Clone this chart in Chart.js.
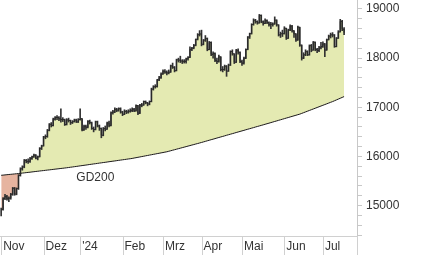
<!DOCTYPE html>
<html><head><meta charset="utf-8">
<script src="https://cdn.jsdelivr.net/npm/chart.js@4/dist/chart.umd.min.js"></script>
<style>html,body{margin:0;padding:0;background:#fff;} #wrap{width:426px;height:255px;}</style>
</head><body><div id="wrap"><canvas id="c" width="426" height="255"></canvas></div>
<script>
// Month labels and the trading-day index where each month starts
const monthLabels = ['Nov', 'Dez', "'24", 'Feb', 'Mrz', 'Apr', 'Mai', 'Jun', 'Jul'];
const monthStartIdx = [0, 22, 41, 63, 84, 104, 125, 147, 167];

// Daily closes (Nov 2023 .. mid Jul 2024)
const closes = [
 14923,15144,15189,15136,15153,15230,15353,15234,15345,15615,15749,15787,15919,15901,15900,15957,15995,16029,15966,15993,16166,16215,
 16397,16405,16533,16656,16629,16759,16794,16791,16766,16751,16751,16650,16744,16733,16687,16706,16742,16701,16752,
 16769,16538,16617,16594,16716,16689,16572,16547,16705,16622,16572,16432,16567,16555,16683,16627,16890,16907,16961,16942,16972,16904,
 16859,16918,16904,16921,16931,16963,16926,17037,16880,17047,17046,17117,17092,17068,17118,17370,17419,17424,17556,17601,17678,
 17735,17716,17698,17716,17843,17815,17746,17965,17961,17942,17936,17933,17987,18015,18179,18206,18261,18384,18477,18492,
 18283,18367,18403,18175,18318,18077,18097,17954,17930,18026,17767,17770,17837,17737,17860,18137,18088,17917,18161,18118,17932,
 17896,18001,18175,18430,18498,18686,18773,18742,18716,18869,18738,18704,18768,18726,18680,18691,18693,18774,18677,18473,18496,18498,
 18608,18405,18572,18653,18557,18494,18369,18630,18265,18002,18068,18131,18068,18254,18163,18325,18177,18155,18211,18235,
 18290,18164,18374,18450,18475,18472,18236,18407,18534,18748,18590,18518
];
const highs = [
 14950,15165,15230,15210,15180,15250,15370,15370,15360,15630,15770,15810,15940,15940,15950,15980,16010,16050,16040,16010,16180,16230,
 16410,16440,16550,16670,16690,16780,16810,16830,16810,16970,16790,16760,16770,16780,16740,16730,16760,16760,16770,
 16970,16770,16640,16640,16730,16740,16700,16600,16720,16720,16640,16580,16590,16620,16700,16720,16910,16940,16990,16980,16990,16990,
 16920,16950,16940,16950,16970,16990,16980,17050,17040,17060,17080,17130,17130,17100,17130,17390,17440,17460,17570,17630,17700,
 17760,17770,17740,17760,17860,17900,17830,17980,18000,18040,17970,17970,18000,18030,18230,18220,18280,18390,18500,18560,
 18570,18380,18460,18410,18340,18330,18130,18110,18000,18060,18030,17830,17860,17850,17880,18150,18170,18090,18180,18190,18130,
 17960,18020,18190,18440,18510,18700,18800,18790,18760,18890,18880,18760,18800,18780,18740,18730,18720,18840,18780,18680,18530,18570,
 18640,18610,18590,18680,18670,18560,18500,18650,18630,18270,18110,18170,18150,18270,18280,18340,18330,18200,18240,18320,
 18330,18300,18390,18470,18510,18520,18480,18420,18560,18790,18770,18620
];
const lows = [
 14790,14905,15120,15110,15080,15130,15210,15210,15220,15330,15600,15720,15770,15870,15860,15880,15940,15980,15950,15930,15990,16140,
 16210,16360,16390,16520,16600,16620,16740,16750,16730,16700,16710,16630,16640,16700,16650,16670,16700,16690,16690,
 16740,16520,16530,16550,16580,16660,16550,16500,16540,16600,16530,16380,16420,16520,16550,16600,16620,16860,16890,16910,16920,16880,
 16830,16850,16870,16880,16900,16910,16910,16920,16850,16870,17010,17040,17070,17030,17050,17110,17350,17390,17410,17540,17590,
 17670,17690,17660,17680,17710,17790,17720,17740,17920,17910,17890,17900,17900,17960,18010,18150,18190,18250,18370,18450,
 18250,18270,18340,18150,18170,18050,18000,17930,17890,17920,17740,17720,17750,17630,17730,17850,18060,17890,17910,18080,17910,
 17850,17880,17990,18170,18400,18490,18670,18710,18690,18710,18720,18670,18700,18700,18650,18600,18650,18690,18650,18450,18420,18440,
 18490,18380,18400,18560,18530,18420,18340,18360,18240,17960,17990,18050,18050,18060,18130,18160,18150,18110,18130,18190,
 18220,18030,18160,18370,18410,18430,18220,18230,18400,18530,18560,18480
];
// 200-day moving average (GD200)
const gd200 = [
 15617,15621,15625,15629,15633,15637,15641,15645,15649,15653,15657,15662,15666,15671,15676,15680,15685,15690,15695,15699,15704,15709,
 15713,15718,15723,15727,15732,15737,15742,15746,15751,15756,15760,15765,15770,15775,15781,15786,15792,
 15797,15803,15809,15814,15820,15825,15831,15837,15842,15848,15853,15859,15865,15870,15876,15881,15887,15893,15898,15904,15909,15915,15921,
 15926,15932,15937,15943,15949,15954,15960,15968,15975,15983,15990,15998,16005,16013,16020,16028,16035,16043,16050,
 16058,16065,16073,16080,16088,16095,16106,16116,16127,16137,16148,16158,16169,16179,16190,16200,16211,16221,16232,16242,
 16253,16263,16274,16285,16296,16307,16319,16330,16341,16352,16363,16375,16386,16397,16408,16419,16431,16442,16453,16464,16475,
 16487,16498,16509,16520,16531,16543,16554,16565,16576,16587,16599,16610,16621,16632,16643,16655,16666,16677,16689,16700,16712,16723,
 16735,16746,16758,16769,16781,16792,16804,16815,16827,16838,16850,16861,16876,16891,16906,16921,16936,16951,16966,16981,
 16996,17011,17026,17041,17056,17071,17086,17101,17116,17133,17150,17167,17184,17201,17218
];
const yMajorTicks = [15000, 16000, 17000, 18000, 19000];
const yMinorStep = 200;
const maLabel = 'GD200';

Chart.defaults.font.family = "'Liberation Sans', Arial, sans-serif";
Chart.defaults.font.size = 12;
Chart.defaults.color = '#333';

const closePts = closes.map((v, i) => ({x: i, y: v}));
const maPts = gd200.map((v, i) => ({x: i, y: v}));
const rangePts = closes.map((v, i) => ({x: i, y: [lows[i], highs[i]]}));

const Y_MIN = 14382, Y_MAX = 19183;

const extras = {
  id: 'extras',
  afterDraw(chart) {
    const ctx = chart.ctx, xs = chart.scales.x, ys = chart.scales.y, ca = chart.chartArea;
    ctx.save();
    ctx.strokeStyle = '#d0d0d0';
    ctx.lineWidth = 1;
    ctx.beginPath();
    monthStartIdx.forEach(i => {
      const px = Math.round(xs.getPixelForValue(i)) + 0.5;
      ctx.moveTo(px, ca.bottom);
      ctx.lineTo(px, chart.height);
    });
    const ax = Math.round(ys.left) + 0.5;
    ctx.moveTo(ax, ca.bottom);
    ctx.lineTo(ax, chart.height);
    ctx.stroke();
    ctx.fillStyle = '#333';
    ctx.font = "12px 'Liberation Sans', Arial, sans-serif";
    ctx.textAlign = 'left';
    ctx.textBaseline = 'middle';
    const li = 39;
    ctx.fillText(maLabel, xs.getPixelForValue(li), ys.getPixelForValue(gd200[li]) + 11);
    ctx.restore();
  }
};

new Chart(document.getElementById('c'), {
  data: {
    datasets: [
      {type: 'line', data: closePts, borderColor: '#2a2a2a', borderWidth: 1, pointRadius: 0, stepped: true,
       fill: {target: 1, above: '#e4eab2', below: '#e6b4a0'}},
      {type: 'line', data: maPts, borderColor: '#1a1a1a', borderWidth: 1, pointRadius: 0, fill: false},
      {type: 'bar', data: rangePts, backgroundColor: '#333333', borderWidth: 0, barThickness: 1, grouped: false}
    ]
  },
  options: {
    responsive: false, animation: false,
    layout: {padding: 0},
    plugins: {legend: {display: false}, tooltip: {enabled: false}, filler: {drawTime: 'beforeDatasetsDraw'}},
    scales: {
      x: {
        type: 'linear', min: -0.6, max: 184.7, offset: false,
        grid: {display: false, drawTicks: false, tickLength: 0},
        border: {display: true, color: '#d0d0d0'},
        afterBuildTicks: s => { s.ticks = monthStartIdx.map(v => ({value: v})); },
        afterFit: s => { s.height = 19; s.paddingLeft = 0; s.paddingRight = 0; },
        ticks: {
          autoSkip: false, maxRotation: 0, align: 'start', labelOffset: 2, padding: 3, color: '#333',
          callback: v => monthLabels[monthStartIdx.indexOf(v)]
        }
      },
      y: {
        type: 'linear', position: 'right', min: Y_MIN, max: Y_MAX,
        grid: {drawOnChartArea: false, tickLength: 5, color: '#c8c8c8'},
        border: {display: true, color: '#c8c8c8'},
        afterBuildTicks: s => {
          const t = [];
          for (let v = Math.ceil(Y_MIN / yMinorStep) * yMinorStep; v <= Y_MAX; v += yMinorStep) t.push({value: v});
          t.push({value: Y_MAX});
          s.ticks = t;
        },
        afterFit: s => { s.width = 69; s.paddingTop = 0; s.paddingBottom = 0; },
        ticks: {
          autoSkip: false, padding: 4, color: '#333',
          callback: v => (v === Y_MAX ? null : (yMajorTicks.includes(v) ? String(v) : ''))
        }
      }
    }
  },
  plugins: [extras]
});
</script>
</body></html>
